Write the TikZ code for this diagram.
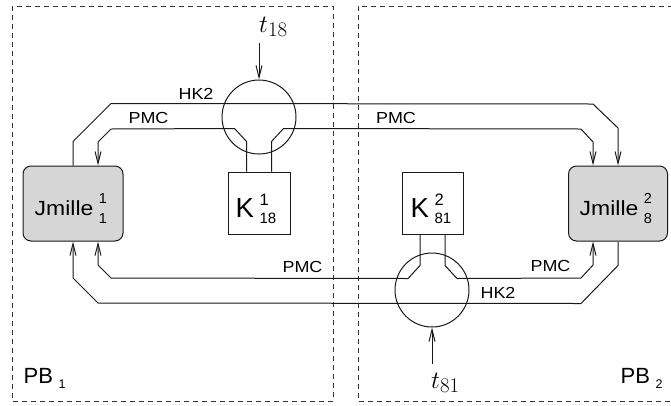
\documentclass[tikz,border=0pt]{standalone}
\usepackage{fontspec}
\usetikzlibrary{arrows.meta}
\newfontfamily\lblfont[FakeStretch=1.12]{Liberation Sans}
\newfontfamily\plainsans{Liberation Sans}
\newcommand\lblsmall{\lblfont\fontsize{16}{18}\selectfont}
\newcommand\jm[2]{{\lblfont\fontsize{20.5}{22}\selectfont Jmille}\hspace{5.5pt}\makebox[0pt][l]{\raisebox{12pt}{\plainsans\fontsize{14.5}{14}\selectfont #1}}\raisebox{-8pt}{\plainsans\fontsize{14.5}{14}\selectfont #2}}
\newcommand\kl[2]{{\plainsans\fontsize{27.5}{30}\selectfont K}\hspace{5.5pt}\makebox[0pt][l]{\raisebox{11.5pt}{\plainsans\fontsize{16.5}{17}\selectfont #1}}\raisebox{-6pt}{\plainsans\fontsize{15}{15}\selectfont #2}}
\newcommand\pbl[1]{{\plainsans\fontsize{22}{24}\selectfont PB}\hspace{5.5pt}\raisebox{-5pt}{\plainsans\fontsize{12.5}{12}\selectfont #1}}
\begin{document}
\begin{tikzpicture}[x=1pt,y=-1pt,
  ln/.style={line width=1pt, draw=black!90},
  arr/.style={ln, -{Straight Barb[length=12pt,width=6pt]}},
  jbox/.style={draw=black!90, line width=1pt, fill=black!16, rounded corners=8pt, minimum width=100pt, minimum height=75pt, inner sep=0},
  kbox/.style={draw=black!90, line width=1pt, fill=white, minimum width=62pt, minimum height=62pt, inner sep=0},
  ring/.style={draw=black!90, line width=1pt, circle, minimum size=74pt, inner sep=0},
  part/.style={draw=black!80, dash pattern=on 5pt off 4pt, line width=0.8pt},
  txt/.style={inner sep=0},
]
\useasboundingbox (0,0) rectangle (671,405);
% partitions
\draw[part] (12,6) rectangle (333,401);
\draw[part] (673,6) -- (358,6) -- (358,401) -- (673,401);
% blocks
\node[jbox] (J1) at (73,203.5) {};
\node[jbox, minimum width=99pt] (J8) at (618,203.5) {};
\node[kbox] (K18) at (259,203) {};
\node[kbox, minimum width=61pt] (K81) at (432.5,203) {};
\node[ring] (C1) at (259,117) {};
\node[ring] (C2) at (432,290) {};
% top HK2
\draw[arr] (J1.north) -- ++(0,-24) -- ++(38,-38) -- (593,104) -- ++(25,24) -- (J8.north);
% top PMC
\draw[arr] ([xshift=-12.5pt]K18.north) -- ++(0,-30) -- ++(-12,-13) -- (111,129) -- ++(-13,13) -- ([xshift=25pt]J1.north);
\draw[arr] ([xshift=12.5pt]K18.north) -- ++(0,-30) -- ++(12,-13) -- (581,129) -- ++(12,13) -- ([xshift=-25pt]J8.north);
% bottom PMC
\draw[arr] ([xshift=-12.5pt]K81.south) -- ++(0,31) -- ++(-12,13) -- (111,278) -- ++(-13,-13) -- ([xshift=25pt]J1.south);
\draw[arr] ([xshift=12.5pt]K81.south) -- ++(0,31) -- ++(12,13) -- (581,278) -- ++(12,-13) -- ([xshift=-25pt]J8.south);
% bottom HK2
\draw[arr] (J8.south) -- ++(0,24) -- ++(-37,38) -- (98,303) -- ++(-25,-25) -- (J1.south);
% t inputs
\coordinate (t18s) at (259,43);
\coordinate (t81s) at (432,364);
\draw[arr] (t18s) -- (C1.north);
\draw[arr] (t81s) -- (C2.south);
% labels
\node[txt, font=\lblsmall] (hk2a) at (196,94) {HK2};
\node[txt, font=\lblsmall] (pmca) at (148.5,118) {PMC};
\node[txt, font=\lblsmall] (pmcb) at (396,118) {PMC};
\node[txt, font=\lblsmall] (pmcc) at (302.5,266.5) {PMC};
\node[txt, font=\lblsmall] (pmcd) at (550.5,266) {PMC};
\node[txt, font=\lblsmall] (hk2b) at (498,293) {HK2};
\node[txt, anchor=base west] (j1t) at (34.5,215) {\jm{1}{1}};
\node[txt, anchor=base west] (j8t) at (579.5,215) {\jm{2}{8}};
\node[txt, anchor=base west] (k18t) at (235.5,217) {\kl{1}{18}};
\node[txt, anchor=base west] (k81t) at (410.5,217) {\kl{2}{81}};
\node[txt, anchor=base west] (pb1) at (23.5,383) {\pbl{1}};
\node[txt, anchor=base west] (pb2) at (620.5,383) {\pbl{2}};
\node[txt, anchor=base west, font=\fontsize{24.88}{28}\selectfont] (t18) at (259,32) {$t_{18}$};
\node[txt, anchor=base west, font=\fontsize{24.88}{28}\selectfont] (t81) at (431,388) {$t_{81}$};
\end{tikzpicture}
\end{document}
